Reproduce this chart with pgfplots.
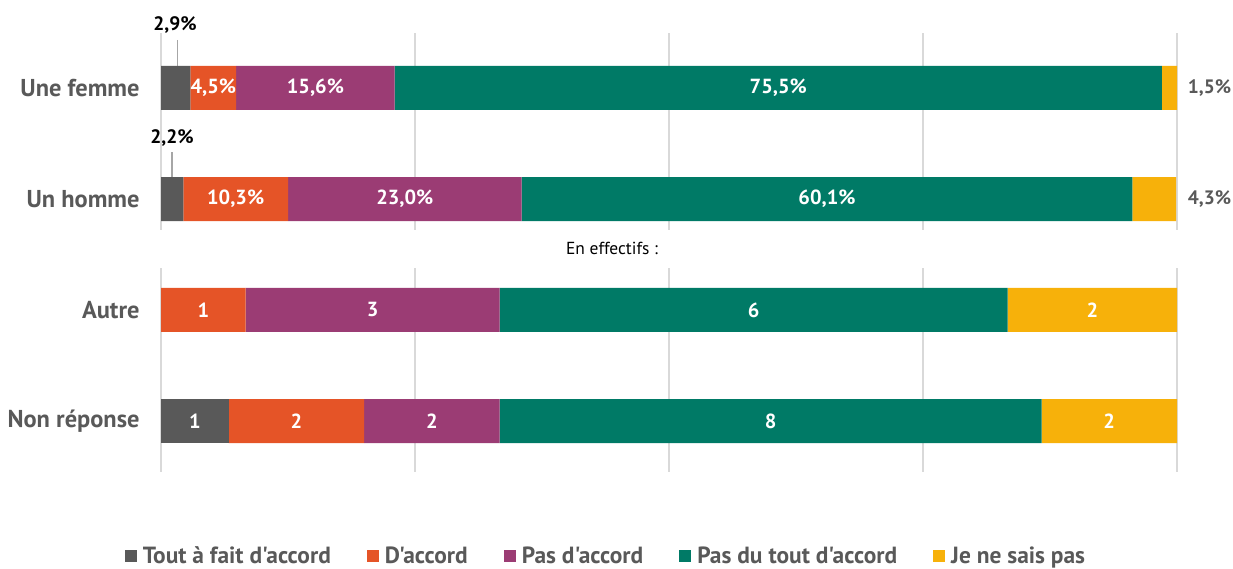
\documentclass[border=0pt]{standalone}
\usepackage{pgfplots}
\pgfplotsset{compat=1.18}
\usepackage{fontspec}
\setmainfont{PT Sans}[Ligatures=TeXOff]
\definecolor{cgray}{HTML}{595959}
\definecolor{corange}{HTML}{E55427}
\definecolor{cpurple}{HTML}{9B3C74}
\definecolor{cteal}{HTML}{007A66}
\definecolor{cyellow}{HTML}{F7B10A}
\definecolor{txtgray}{HTML}{595959}
\definecolor{gridc}{HTML}{D9D9D9}
\definecolor{leader}{HTML}{A6A6A6}
\newcommand{\labfont}{\fontsize{24.5}{27}\selectfont\bfseries}
\newcommand{\legfont}{\fontsize{23.5}{26}\selectfont\bfseries}
\newcommand{\barfont}{\fontsize{20.5}{23}\selectfont\bfseries}
\newcommand{\outfont}{\fontsize{19.5}{22}\selectfont\bfseries}
\begin{document}
\begin{tikzpicture}[x=1bp,y=1bp]
\useasboundingbox (0,0) rectangle (1233,569);
\pgfplotsset{
  myaxis/.style={
    xbar stacked, scale only axis, width=1016bp, anchor=south west,
    xmin=0, xmax=100, xtick={0,25,50,75,100}, xticklabels={},
    xmajorgrids, grid style={draw=gridc, line width=1.5bp},
    axis line style={draw=none}, major tick length=0, ytick={0,1},
    bar width=44bp,
    yticklabel style={font=\labfont, text=txtgray, xshift=-18bp},
    clip=false,
  },
  lab/.style={nodes near coords, point meta=explicit symbolic,
    every node near coord/.append style={anchor=center, text=white, font=\barfont}},
}
% ---------- top axis (percentages) ----------
\begin{axis}[myaxis, at={(161bp,339bp)}, height=197bp, ymin=-0.279, ymax=1.495,
  yticklabels={Un homme, Une femme}]
\addplot[fill=cgray, draw=none] table {
x y
2.9 1
2.2 0
};
\addplot[fill=corange, draw=none, lab, nodes near coords={\pgfplotspointmeta\%}] table[meta=l] {
x y l
4.5 1 4,5
10.3 0 10,3
};
\addplot[fill=cpurple, draw=none, lab, nodes near coords={\pgfplotspointmeta\%}] table[meta=l] {
x y l
15.6 1 15,6
23.0 0 23,0
};
\addplot[fill=cteal, draw=none, lab, nodes near coords={\pgfplotspointmeta\%}] table[meta=l] {
x y l
75.5 1 75,5
60.1 0 60,1
};
\addplot[fill=cyellow, draw=none] table {
x y
1.5 1
4.3 0
};
\draw[leader, line width=1.5bp] (axis cs:1.6,1.432) -- (axis cs:1.6,1.198);
\draw[leader, line width=1.5bp] (axis cs:1.1,0.423) -- (axis cs:1.1,0.189);
\node[font=\outfont, text=black] at (axis cs:1.38,1.568) {2,9\%};
\node[font=\outfont, text=black] at (axis cs:1.08,0.55) {2,2\%};
\node[font=\outfont, text=txtgray] at (axis cs:103.2,1) {1,5\%};
\node[font=\outfont, text=txtgray] at (axis cs:103.2,0) {4,3\%};
\end{axis}
\node[font=\fontsize{17.5}{20}\selectfont, text=black] at (612bp,321bp) {En effectifs :};
% ---------- bottom axis (counts) ----------
\begin{axis}[myaxis, at={(161bp,97bp)}, height=204bp, ymin=-0.459, ymax=1.378,
  yticklabels={Non réponse, Autre},
  legend columns=5,
  legend style={draw=none, at={(0.438,-0.412)}, anchor=center, font=\legfont, text=txtgray,
    /tikz/every even column/.append style={column sep=34bp}},
  legend image code/.code={\fill[#1] (0bp,-6bp) rectangle (12bp,6bp); \path (16bp,0bp);},
]
\addplot[fill=cgray, draw=none, lab] table[meta=l] {
x y l
0 1 {}
6.667 0 1
};
\addplot[fill=corange, draw=none, lab] table[meta=l] {
x y l
8.333 1 1
13.333 0 2
};
\addplot[fill=cpurple, draw=none, lab] table[meta=l] {
x y l
25 1 3
13.333 0 2
};
\addplot[fill=cteal, draw=none, lab] table[meta=l] {
x y l
50 1 6
53.333 0 8
};
\addplot[fill=cyellow, draw=none, lab] table[meta=l] {
x y l
16.667 1 2
13.333 0 2
};
\legend{Tout à fait d'accord, D'accord, Pas d'accord, Pas du tout d'accord, Je ne sais pas}
\end{axis}
\end{tikzpicture}
\end{document}
